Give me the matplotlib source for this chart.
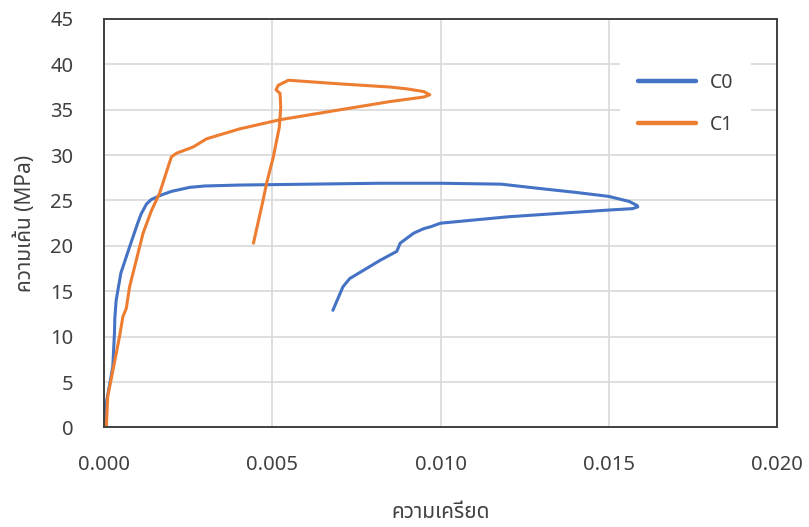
import matplotlib
matplotlib.use('Agg')
import matplotlib.pyplot as plt

plt.rcParams['font.family'] = ['Noto Sans Thai', 'Noto Sans', 'DejaVu Sans']

# C0 strain / stress
c0_strain = [0, 0.00008, 0.00018, 0.00026, 0.00031, 0.00032, 0.00036, 0.0005, 0.00076, 0.001,
             0.0011, 0.00126, 0.0014, 0.0017, 0.002, 0.00255, 0.003, 0.004, 0.0082, 0.010,
             0.0118, 0.0130, 0.0140, 0.0150, 0.0156, 0.01584, 0.01586, 0.0157, 0.0150, 0.01199,
             0.0100, 0.0097, 0.0095, 0.0092, 0.0088, 0.0087, 0.0082, 0.0073, 0.0071, 0.0068]
c0_stress = [0, 3, 5, 6.7, 10.4, 12, 14.0, 17, 19.9, 22.5,
             23.5, 24.6, 25.1, 25.6, 26.0, 26.45, 26.6, 26.7, 26.9, 26.9,
             26.8, 26.3, 25.9, 25.45, 24.9, 24.45, 24.3, 24.1, 23.95, 23.2,
             22.5, 22.1, 21.9, 21.4, 20.3, 19.4, 18.4, 16.4, 15.5, 12.9]

# C1 strain / stress
c1_strain = [0, 0.00007, 0.00011, 0.00046, 0.00056, 0.00066, 0.00076, 0.00116, 0.00141, 0.00165,
             0.002, 0.00215, 0.00265, 0.00305, 0.00404, 0.00523, 0.00702, 0.0085, 0.0091, 0.0095,
             0.00968, 0.0095, 0.0090, 0.0085, 0.0070, 0.00548, 0.00518, 0.00511, 0.00523, 0.00525,
             0.00521, 0.00503, 0.00483, 0.00473, 0.00444]
c1_stress = [0, 0.1, 3.4, 10.0, 12.2, 13.1, 15.5, 21.4, 23.9, 25.8,
             29.8, 30.2, 30.9, 31.8, 32.9, 33.9, 35.0, 35.9, 36.2, 36.4,
             36.65, 37.0, 37.3, 37.5, 37.85, 38.25, 37.7, 37.2, 36.8, 35.3,
             33.1, 29.8, 26.9, 25.1, 20.3]

fig = plt.figure(figsize=(8.09, 5.27), dpi=100)
ax = fig.add_axes([0.1286, 0.189, 0.832, 0.775])

ax.plot(c0_strain, c0_stress, color='#4472C4', lw=2.2, label='C0', solid_capstyle='round', solid_joinstyle='round')
ax.plot(c1_strain, c1_stress, color='#ED7D31', lw=2.2, label='C1', solid_capstyle='round', solid_joinstyle='round')

ax.set_xlim(0, 0.020)
ax.set_ylim(0, 45)
ax.set_xticks([0, 0.005, 0.010, 0.015, 0.020])
ax.set_xticklabels(['0.000', '0.005', '0.010', '0.015', '0.020'])
ax.set_yticks(range(0, 46, 5))
ax.grid(True, color='#D9D9D9', lw=1.2)
ax.set_axisbelow(True)
ax.tick_params(length=0, labelsize=14.5, labelcolor='#404040')
ax.tick_params(axis='x', pad=20)
ax.tick_params(axis='y', pad=22)
for s in ax.spines.values():
    s.set_color('#404040')
    s.set_linewidth(1.4)

ax.set_xlabel('ความเครียด', fontsize=15, color='#404040', labelpad=19)
ax.set_ylabel('ความเค้น (MPa)', fontsize=15, color='#404040', labelpad=10)

leg = ax.legend(loc='upper right', bbox_to_anchor=(0.975, 0.934), frameon=True, fontsize=14,
                handlelength=3.0, labelspacing=1.1, borderpad=0.9, handletextpad=0.7)
leg.get_frame().set_edgecolor('none')
leg.get_frame().set_facecolor('white')
leg.get_frame().set_alpha(1)
for h in leg.get_lines():
    h.set_linewidth(3.2)
for t in leg.get_texts():
    t.set_color('#404040')

fig.savefig('out.png')
